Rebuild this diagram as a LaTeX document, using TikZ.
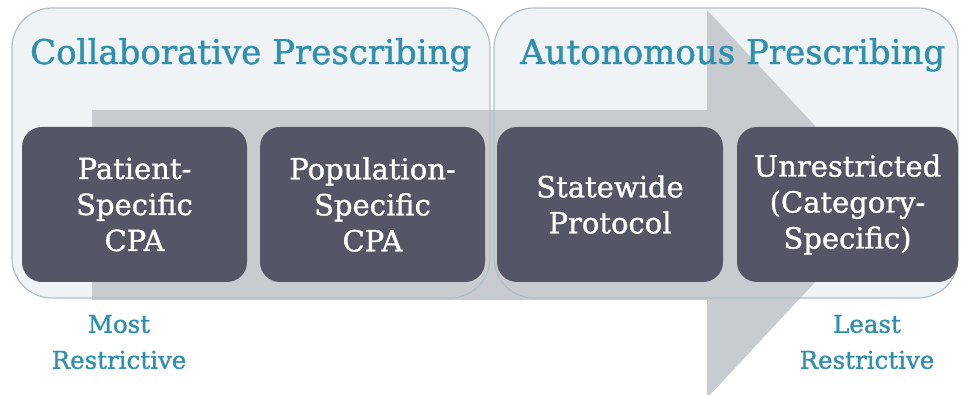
\documentclass[tikz,border=0pt]{standalone}
\usepackage{fontspec}
\setmainfont[FakeBold=1.2]{DejaVu Serif}
\definecolor{contfill}{HTML}{F0F3F6}
\definecolor{contborder}{HTML}{AEBFC9}
\definecolor{arrowgray}{HTML}{C8CBD0}
\definecolor{boxfill}{HTML}{545565}
\definecolor{teal}{HTML}{2F8FAE}
\tikzset{
  container/.style={draw=contborder, line width=1.2pt, fill=contfill, rounded corners=40pt, minimum height=290pt, inner sep=0pt},
  stagebox/.style={fill=boxfill, rounded corners=20pt, minimum height=155pt, inner sep=0pt, text=white, align=center,
    font=\fontsize{29}{36}\selectfont},
  titletext/.style={text=teal, anchor=base west, inner sep=0pt, font=\fontsize{34}{40}\selectfont},
  endlabel/.style={text=teal, align=center, inner sep=0pt, font=\fontsize{24.5}{36}\selectfont}
}
\begin{document}
\begin{tikzpicture}[x=1pt,y=-1pt]
\useasboundingbox (0,0) rectangle (961,395);
\fill[white] (0,0) rectangle (961,395);
% container fills
\node[container, draw=none, minimum width=478pt] (leftc) at (251,153) {};
\node[container, draw=none, minimum width=464pt] (rightc) at (726,153) {};
% big arrow
\fill[arrowgray] (92,110) -- (707,110) -- (707,10) -- (888,204) -- (707,398) -- (707,300) -- (92,300) -- cycle;
% container borders
\node[container, fill=none, minimum width=478pt] (leftb) at (251,153) {};
\node[container, fill=none, minimum width=464pt] (rightb) at (726,153) {};
% titles
\node[titletext] (t1) at (30,64) {Collaborative Prescribing};
\node[titletext] (t2) at (520,64) {Autonomous Prescribing};
% stage boxes
\node[stagebox, minimum width=225pt] (b1) at (134.5,204.5) {Patient-\\Specific\\CPA};
\node[stagebox, minimum width=225pt] (b2) at (372.5,204.5) {Population-\\Specific\\CPA};
\node[stagebox, minimum width=226pt] (b3) at (610,204.5) {Statewide\\Protocol};
\node[stagebox, minimum width=221pt] (b4) at (847.5,204.5) {Unrestricted\\(Category-\\Specific)};
% end labels
\node[endlabel] (most) at (119,342) {Most\\Restrictive};
\node[endlabel] (least) at (867,342) {Least\\Restrictive};
\end{tikzpicture}
\end{document}
